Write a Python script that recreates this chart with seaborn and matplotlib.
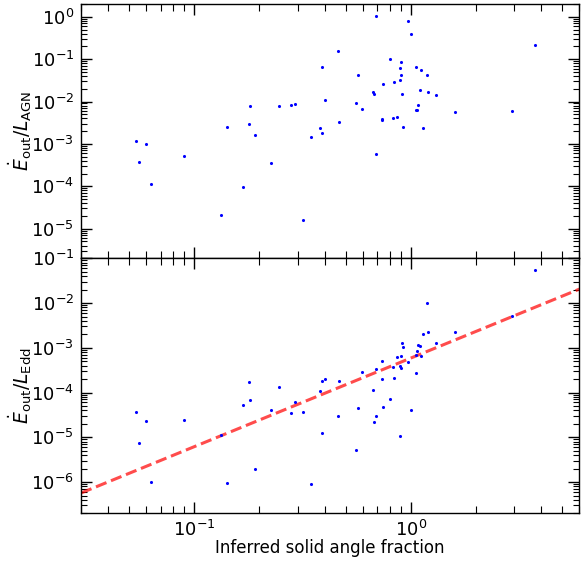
import numpy as np
import pandas as pd
import matplotlib
matplotlib.use("Agg")
import matplotlib.pyplot as plt
import seaborn as sns

# Inferred solid angle fraction of each outflow
solid_angle = [
    0.0536, 0.0553, 0.0598, 0.0631, 0.0901, 0.1334, 0.1411, 0.1677, 0.1788, 0.1806,
    0.1912, 0.2273, 0.2474, 0.2790, 0.2932, 0.3191, 0.3473, 0.3821, 0.3875, 0.3875,
    0.3999, 0.4609, 0.4658, 0.5578, 0.5674, 0.5943, 0.6724, 0.6753, 0.6897, 0.6897,
    0.7347, 0.7370, 0.7448, 0.7995, 0.8309, 0.8343, 0.8667, 0.8892, 0.8948, 0.8985,
    0.9043, 0.9081, 0.9236, 0.9708, 1.002, 1.053, 1.057, 1.065, 1.079, 1.106,
    1.118, 1.142, 1.184, 1.204, 1.310, 1.597, 2.932, 3.756,
]

# Kinetic power relative to the AGN bolometric luminosity
edot_over_lagn = [
    1.18e-3, 3.72e-4, 1.02e-3, 1.13e-4, 5.24e-4, 2.06e-5, 2.57e-3, 9.6e-5, 3.02e-3, 7.76e-3,
    1.64e-3, 3.53e-4, 7.76e-3, 8.19e-3, 8.93e-3, 1.63e-5, 1.47e-3, 2.39e-3, 1.85e-3, 0.0665,
    0.0111, 0.1582, 3.37e-3, 9.13e-3, 0.0424, 6.59e-3, 0.01685, 0.01537, 1.056, 5.62e-4,
    3.69e-3, 3.79e-3, 0.0260, 0.0993, 4.05e-3, 0.0294, 4.41e-3, 0.0323, 0.0619, 0.0417,
    0.0843, 0.01512, 2.53e-3, 0.779, 0.391, 6.25e-3, 0.0654, 6.25e-3, 8.46e-3, 0.01909,
    0.0556, 2.35e-3, 0.0424, 0.01658, 0.01455, 5.69e-3, 6.01e-3, 0.219,
]

# Kinetic power relative to the Eddington luminosity
edot_over_ledd = [
    3.63e-5, 7.30e-6, 2.35e-5, 1.0e-6, 2.40e-5, 1.12e-5, 9.7e-7, 5.22e-5, 1.74e-4, 6.97e-5,
    2.0e-6, 4.09e-5, 1.35e-4, 3.45e-5, 6.19e-5, 3.75e-5, 9.2e-7, 1.11e-4, 1.81e-4, 1.26e-5,
    1.96e-4, 3.05e-5, 1.84e-4, 5.08e-6, 4.47e-5, 2.88e-4, 1.13e-4, 2.16e-5, 3.30e-4, 3.0e-5,
    4.99e-4, 2.04e-4, 4.71e-5, 7.35e-5, 3.73e-4, 2.07e-4, 6.13e-4, 3.85e-4, 1.08e-5, 3.54e-4,
    6.60e-4, 1.31e-3, 1.03e-3, 4.74e-4, 4.09e-5, 2.68e-4, 6.95e-4, 8.68e-4, 1.17e-3, 1.07e-3,
    6.60e-4, 2.06e-3, 1.0e-2, 2.24e-3, 1.27e-3, 2.28e-3, 5.12e-3, 0.0554,
]

# Power-law relation  Edot/L_Edd = norm * Omega**slope
fit_slope = 1.98
fit_log_norm = -3.23

x_limits = (0.03, 6.0)
top_y_limits = (2e-6, 2.0)
bottom_y_limits = (2e-7, 0.1)

df = pd.DataFrame({
    "omega": solid_angle,
    "lagn": edot_over_lagn,
    "ledd": edot_over_ledd,
})

fit_x = np.geomspace(x_limits[0], x_limits[1], 100)
fit_df = pd.DataFrame({"omega": fit_x,
                       "ledd": 10 ** fit_log_norm * fit_x ** fit_slope})

sns.set_theme(style="ticks")
plt.rcParams.update({
    "font.family": ["DejaVu Sans"],
    "font.size": 12,
    "axes.linewidth": 1.0,
    "axes.edgecolor": "black",
    "xtick.direction": "in",
    "ytick.direction": "in",
    "xtick.top": True,
    "ytick.right": True,
    "xtick.major.size": 8,
    "ytick.major.size": 8,
    "xtick.minor.size": 5,
    "ytick.minor.size": 4,
    "xtick.major.width": 1.0,
    "ytick.major.width": 1.0,
    "xtick.minor.width": 0.8,
    "ytick.minor.width": 0.8,
    "xtick.labelsize": 13,
    "ytick.labelsize": 13,
    "xtick.color": "black",
    "ytick.color": "black",
    "text.color": "black",
    "axes.labelcolor": "black",
})

fig = plt.figure(figsize=(5.84, 5.61), dpi=100)
ax_top = fig.add_axes([0.1387, 0.5396, 0.8533, 0.4533])
ax_bot = fig.add_axes([0.1387, 0.0850, 0.8533, 0.4546], sharex=ax_top)

sns.scatterplot(data=df, x="omega", y="lagn", ax=ax_top, color="blue",
                s=5, linewidth=0, zorder=3)

sns.lineplot(data=fit_df, x="omega", y="ledd", ax=ax_bot, color="red",
             alpha=0.7, linewidth=2.2, linestyle="--", zorder=2)
sns.scatterplot(data=df, x="omega", y="ledd", ax=ax_bot, color="blue",
                s=5, linewidth=0, zorder=3)

for ax in (ax_top, ax_bot):
    ax.set_xscale("log")
    ax.set_yscale("log")
    ax.set_xlim(*x_limits)
    ax.yaxis.set_major_locator(matplotlib.ticker.LogLocator(base=10, numticks=20))
    ax.yaxis.set_minor_locator(matplotlib.ticker.LogLocator(base=10, subs=np.arange(2, 10), numticks=20))
    ax.yaxis.set_minor_formatter(matplotlib.ticker.NullFormatter())
    ax.tick_params(which="both", top=True, right=True, direction="in")
    ax.tick_params(axis="both", which="major", pad=5)

ax_top.set_ylim(*top_y_limits)
ax_bot.set_ylim(*bottom_y_limits)

ax_top.tick_params(axis="x", labelbottom=False)
ax_top.set_xlabel("")
ax_top.set_ylabel(r"$\dot{E}_{\rm out}/L_{\rm AGN}$", fontsize=13.5, labelpad=-2)
ax_bot.set_ylabel(r"$\dot{E}_{\rm out}/L_{\rm Edd}$", fontsize=13.5, labelpad=-2)
ax_bot.set_xlabel("Inferred solid angle fraction", fontsize=12, labelpad=-1)

fig.savefig("out.png", dpi=100)
